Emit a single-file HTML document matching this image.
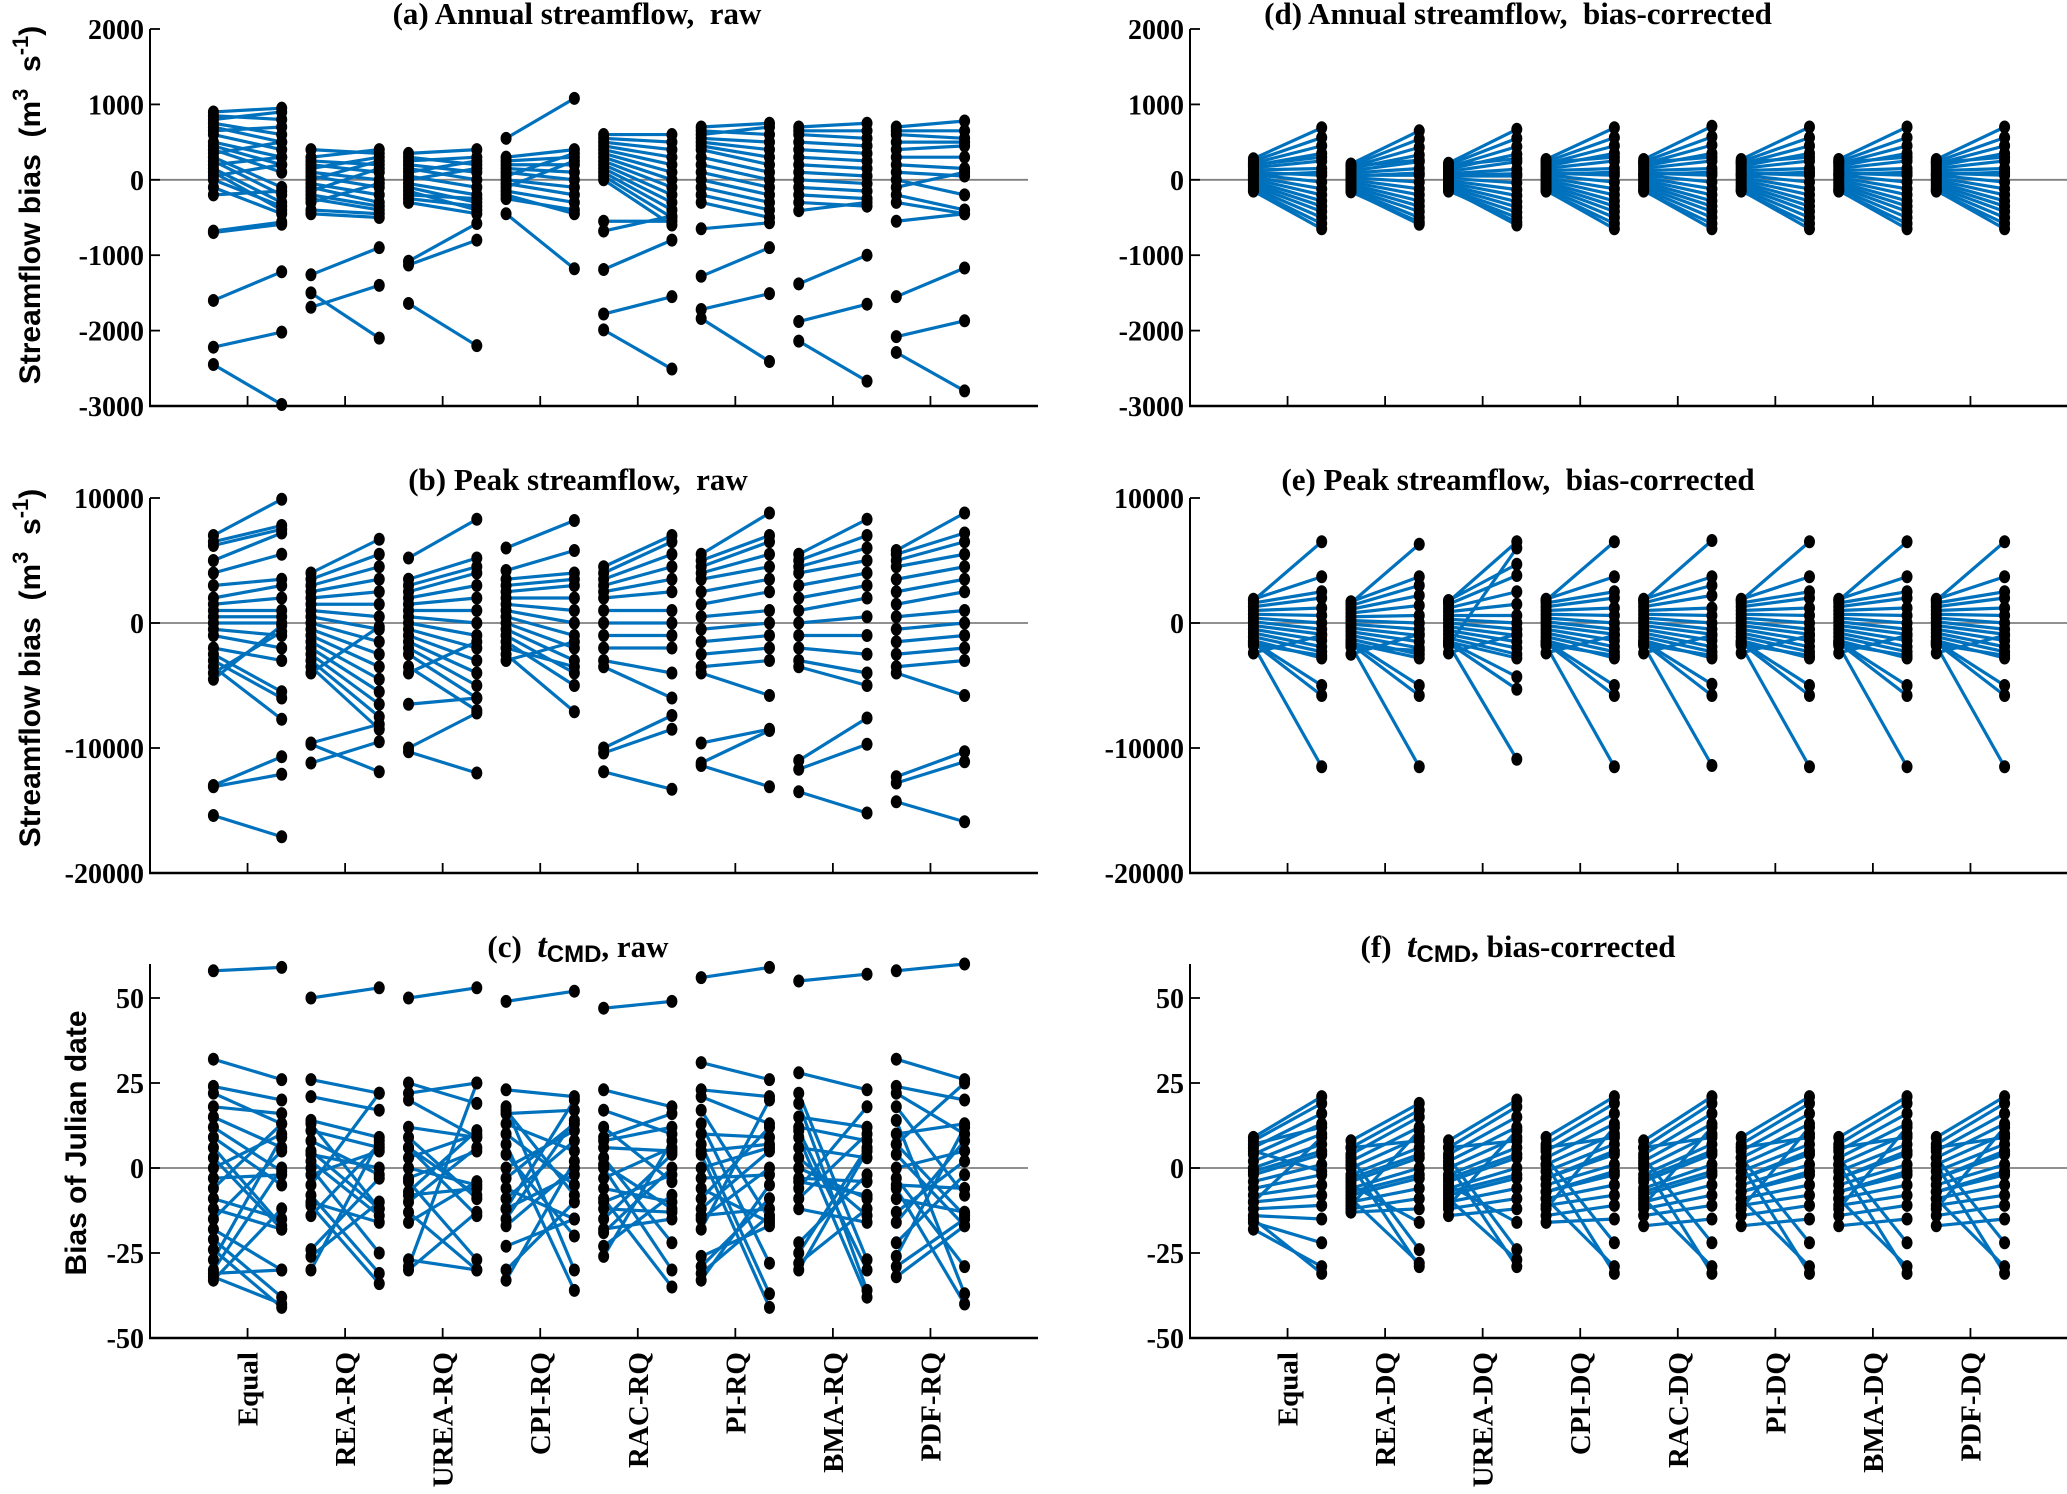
<!DOCTYPE html>
<html><head><meta charset="utf-8">
<style>
html,body{margin:0;padding:0;background:#fff;}
svg{display:block;}
.tk{font-family:"Liberation Serif",serif;font-weight:bold;font-size:28px;fill:#000;}
.xk{font-family:"Liberation Serif",serif;font-weight:bold;font-size:29px;fill:#000;}
.tt{font-family:"Liberation Serif",serif;font-weight:bold;font-size:31px;fill:#000;}
.yl{font-family:"Liberation Sans",sans-serif;font-weight:bold;font-size:30px;fill:#000;}
</style></head>
<body>
<svg id="fig" width="2067" height="1494" viewBox="0 0 2067 1494" xmlns="http://www.w3.org/2000/svg"></svg>
<script>
const catsRaw = ["Equal","REA-RQ","UREA-RQ","CPI-RQ","RAC-RQ","PI-RQ","BMA-RQ","PDF-RQ"];
const catsBC = ["Equal","REA-DQ","UREA-DQ","CPI-DQ","RAC-DQ","PI-DQ","BMA-DQ","PDF-DQ"];
const ticksFlow = [2000,1000,0,-1000,-2000,-3000];
const ticksPeak = [10000,0,-10000,-20000];
const ticksDate = [50,25,0,-25,-50];

// (a) annual raw
const aL = [
 [900,850,800,750,700,650,600,500,450,400,350,300,250,200,150,100,50,0,-100,-200,-700,-680,-1600,-2220,-2450],
 [400,300,250,200,150,100,50,0,-50,-100,-150,-200,-250,-300,-400,-450,-1260,-1500,-1690],
 [350,300,250,200,150,100,50,0,-50,-100,-150,-200,-250,-300,-1080,-1130,-1640],
 [550,300,250,200,150,100,50,0,-50,-100,-150,-200,-250,-450],
 [600,550,500,450,400,350,300,250,200,150,100,50,0,-550,-680,-1190,-1780,-1990],
 [700,650,600,550,500,450,400,300,200,100,0,-100,-200,-300,-650,-1280,-1720,-1840],
 [700,650,600,500,400,300,200,100,0,-100,-200,-300,-410,-1380,-1880,-2140],
 [700,650,600,500,400,300,200,100,0,-100,-200,-300,-550,-1550,-2080,-2290]];
const aR = [
 [950,800,900,600,500,700,400,300,200,100,500,-100,-200,300,-300,-400,200,-350,-450,-150,-590,-560,-1220,-2020,-2980],
 [350,400,200,100,300,0,-100,250,-200,-300,150,-350,-400,-50,-450,-500,-900,-2100,-1400],
 [400,200,300,100,0,250,-100,150,-200,-300,-400,-250,-350,-450,-580,-800,-2200],
 [1080,400,300,200,100,0,350,-100,-200,250,-300,-450,-400,-1180],
 [600,500,400,300,200,100,0,-100,-200,-300,-400,-500,-600,-550,-480,-800,-1550,-2510],
 [750,600,700,500,400,300,200,100,0,-100,-200,-300,-400,-500,-570,-900,-1510,-2410],
 [750,650,550,450,350,250,150,50,-50,-150,-250,-350,-300,-1000,-1650,-2670],
 [780,650,550,500,450,300,150,50,-200,100,-400,-450,-450,-1170,-1870,-2800]];
// (d) annual bias-corrected
const dL = [
 [280,250,220,190,160,130,100,70,40,10,-20,-50,-80,-110,-140,-150,200,60],
 [210,190,170,150,120,90,60,30,0,-30,-60,-90,-120,-140,-160,-150,180,50],
 [220,200,170,140,110,80,50,20,-10,-40,-70,-100,-130,-150,-140,-120,190,60],
 [270,240,210,180,150,120,90,60,30,0,-30,-60,-90,-120,-150,-140,230,70],
 [270,240,210,180,150,120,90,60,30,0,-30,-60,-90,-120,-150,-140,230,70],
 [270,240,210,180,150,120,90,60,30,0,-30,-60,-90,-120,-150,-140,230,70],
 [270,240,210,180,150,120,90,60,30,0,-30,-60,-90,-120,-150,-140,230,70],
 [270,240,210,180,150,120,90,60,30,0,-30,-60,-90,-120,-150,-140,230,70]];
const dR = [
 [690,560,450,350,250,150,60,-30,-120,-200,-280,-350,-420,-500,-580,-650,300,100],
 [650,540,430,330,240,150,60,-30,-120,-200,-280,-350,-420,-500,-560,-590,260,90],
 [670,550,440,340,240,140,50,-40,-130,-210,-290,-360,-430,-500,-560,-600,280,80],
 [690,560,450,350,250,150,60,-30,-120,-200,-280,-350,-420,-500,-580,-650,300,100],
 [710,570,460,350,250,150,60,-30,-120,-200,-280,-350,-420,-500,-580,-650,300,100],
 [700,560,450,350,250,150,60,-30,-120,-200,-280,-350,-420,-500,-580,-650,300,100],
 [700,560,450,350,250,150,60,-30,-120,-200,-280,-350,-420,-500,-580,-650,300,100],
 [700,560,450,350,250,150,60,-30,-120,-200,-280,-350,-420,-500,-580,-650,300,100]];
// (b) peak raw
const bL = [
 [7000,6500,6200,5000,4000,3000,2000,1500,1000,500,0,-500,-1000,-2000,-2500,-3000,-3500,-4000,-4500,-13000,-13100,-15400],
 [4000,3500,3000,2500,2000,1500,1000,500,0,-500,-1000,-1500,-2000,-2500,-3000,-3500,-4000,-9600,-9700,-11200],
 [5200,3500,3000,2500,2000,1500,1000,500,0,-500,-1000,-1500,-2000,-2500,-3500,-4000,-6500,-10000,-10300],
 [6000,4200,3500,3000,2500,2000,1500,1000,500,0,-500,-1000,-1500,-2000,-2500,-3000],
 [4500,4000,3500,3000,2500,2000,1000,0,-1000,-2000,-3000,-3500,-10000,-10400,-11900],
 [5500,5000,4500,4000,3500,2500,1500,500,-500,-1500,-2500,-3500,-4000,-9600,-11200,-11400],
 [5500,5000,4500,4000,3000,2000,1000,0,-1000,-2000,-3000,-3500,-11000,-11700,-13500],
 [5800,5500,5000,4500,3500,2500,1500,500,-500,-1500,-2500,-3500,-4000,-12300,-12800,-14300]];
const bR = [
 [9900,7800,7500,7200,5500,3500,3000,2000,1000,500,0,-1000,-2000,-3000,-5500,-6000,-7700,-700,-200,-10700,-12100,-17100],
 [6700,5500,4500,3500,2500,1500,500,-500,-1500,-2500,-3500,-4500,-5500,-6500,-7500,-8500,-300,-8100,-11900,-9500],
 [8300,5200,4500,4000,3000,2000,1000,0,-1000,-2000,-3000,-4000,-5000,-6000,-7000,-1500,-6000,-7200,-12000],
 [8200,5800,4000,3500,3000,2000,1000,0,-1000,-2000,-3000,-4000,-5000,-3500,-7100,-1500],
 [7000,6500,5500,4500,3500,2500,1000,0,-1000,-2000,-4000,-6000,-7400,-8500,-13300],
 [8800,7000,6500,5500,4500,3500,2500,1000,0,-1000,-2000,-3000,-5800,-8500,-8600,-13100],
 [8300,7000,6000,5000,4000,3000,2000,500,-1000,-2500,-4000,-5000,-7600,-9700,-15200],
 [8800,7200,6500,5500,4500,3500,2500,1000,0,-1000,-2000,-3000,-5800,-10300,-11100,-15900]];
// (e) peak bias-corrected
const eL = [
 [1900,1600,1300,1000,700,400,100,-200,-500,-800,-1100,-1400,-1700,-2400,1800,-1500,-1600,-1800],
 [1700,1400,1100,800,500,200,-100,-400,-700,-1000,-1300,-1600,-1900,-2500,1600,-1500,-1700,-1800],
 [1800,1500,1200,900,600,300,0,-300,-600,-900,-1200,-1500,-1800,-2400,1700,-1500,-1600,-1700],
 [1900,1600,1300,1000,700,400,100,-200,-500,-800,-1100,-1400,-1700,-2400,1800,-1500,-1600,-1800],
 [1900,1600,1300,1000,700,400,100,-200,-500,-800,-1100,-1400,-1700,-2400,1800,-1500,-1600,-1800],
 [1900,1600,1300,1000,700,400,100,-200,-500,-800,-1100,-1400,-1700,-2400,1800,-1500,-1600,-1800],
 [1900,1600,1300,1000,700,400,100,-200,-500,-800,-1100,-1400,-1700,-2400,1800,-1500,-1600,-1800],
 [1900,1600,1300,1000,700,400,100,-200,-500,-800,-1100,-1400,-1700,-2400,1800,-1500,-1600,-1800]];
const eR = [
 [3700,2500,2000,1200,600,0,-500,-900,-1400,-1900,-2300,-2800,-2600,-1000,6500,-5000,-5800,-11500],
 [3700,3000,2200,1400,600,0,-500,-1000,-1500,-2000,-2500,-2800,-2200,-900,6300,-5000,-5800,-11500],
 [4700,3800,2500,1500,600,0,-500,-1000,-1500,-2000,-2500,-2800,6000,-900,6500,-4300,-5300,-10900],
 [3700,2500,2000,1200,600,0,-500,-900,-1400,-1900,-2300,-2800,-2600,-1000,6500,-5000,-5800,-11500],
 [3700,3000,2200,1200,600,0,-500,-900,-1400,-1900,-2300,-2800,-2600,-1000,6600,-4900,-5800,-11400],
 [3700,2500,2000,1200,600,0,-500,-900,-1400,-1900,-2300,-2800,-2600,-1000,6500,-5000,-5800,-11500],
 [3700,2500,2000,1200,600,0,-500,-900,-1400,-1900,-2300,-2800,-2600,-1000,6500,-5000,-5800,-11500],
 [3700,2500,2000,1200,600,0,-500,-900,-1400,-1900,-2300,-2800,-2600,-1000,6500,-5000,-5800,-11500]];
// (c) tCMD raw
const cL = [
 [58,32,24,22,18,15,12,9,6,3,0,-3,-6,-9,-12,-15,-18,-21,-24,-27,-30,-32,-31,-33],
 [50,26,21,14,11,8,5,2,0,-2,-5,-8,-11,-14,-24,-26,-30,-10,4,13],
 [50,25,22,12,9,6,3,0,-4,-7,-10,-13,-16,-27,-30,-29,-3,6,-8,20],
 [49,23,18,16,13,10,7,4,0,-3,-6,-9,-12,-15,-17,-23,-30,-33,17,-12],
 [47,23,17,12,9,6,3,0,-3,-6,-9,-12,-15,-18,-23,-26,8,-10,1,-19],
 [56,31,23,21,17,13,10,7,4,0,-3,-6,-9,-12,-15,-18,-26,-29,-31,-33,5,-14],
 [55,28,22,19,15,12,9,6,3,0,-3,-6,-9,-12,-22,-25,-28,-30,11,-4],
 [58,32,24,22,18,14,10,7,4,0,-3,-6,-9,-13,-16,-22,-26,-29,-32,7,-5]];
const cR = [
 [59,26,20,13,16,6,-1,-5,-17,-18,10,-2,13,-15,-18,5,-30,-38,-41,9,0,-40,-30,-12],
 [53,22,17,9,6,-2,-12,-14,-25,5,22,-31,-34,7,-3,-10,8,-16,0,-12],
 [53,19,25,9,-9,-14,10,-5,-27,11,6,-30,-4,-30,-13,25,5,-8,-6,9],
 [52,21,-30,17,5,-5,-36,-20,11,13,-15,8,-2,14,0,-15,-10,2,-8,20],
 [49,18,10,-4,16,5,-22,-30,6,-10,-35,-13,4,-15,-8,8,12,-2,-12,0],
 [59,26,21,13,-15,-28,9,-37,-41,6,-2,-16,12,5,0,20,-17,-9,-14,-5,7,-12],
 [57,23,-27,-36,12,8,-38,3,-14,-9,-4,18,10,-16,-2,6,-12,5,-30,-8],
 [60,26,20,10,-8,-37,13,-14,-17,5,-29,-40,-13,2,8,-2,12,-15,-17,25,-6]];
// (f) tCMD bias-corrected
const fL = [
 [9,8,6,4,2,0,-2,-4,-6,-8,-10,-12,-14,-16,-18,-15,-10,5,7,-1],
 [8,6,4,2,0,-2,-4,-6,-8,-10,-12,-13,-5,3,-9,1,6,-7,-11,-3],
 [8,6,4,2,0,-2,-4,-6,-8,-10,-12,-14,-5,3,-9,1,6,-7,-11,-3],
 [9,7,5,3,1,-1,-3,-5,-7,-9,-11,-14,-16,3,-9,1,6,-7,-12,-3],
 [8,6,4,2,0,-2,-4,-6,-8,-10,-12,-14,-17,3,-9,1,6,-7,-11,-3],
 [9,7,5,3,1,-1,-3,-5,-7,-9,-11,-14,-17,3,-9,1,6,-7,-12,-3],
 [9,7,5,3,1,-1,-3,-5,-7,-9,-11,-14,-17,3,-9,1,6,-7,-12,-3],
 [9,7,5,3,1,-1,-3,-5,-7,-9,-11,-14,-17,3,-9,1,6,-7,-12,-3]];
const fR = [
 [21,19,16,13,10,7,4,1,-2,-5,-8,-11,-15,-22,-29,-31,9,-1,12,5],
 [19,17,15,12,9,6,3,0,-3,-6,-9,-12,-16,-24,-28,-29,8,-2,11,4],
 [20,18,15,12,9,6,3,0,-3,-6,-9,-12,-16,-24,-27,-29,8,-2,11,4],
 [21,19,16,13,10,7,4,1,-2,-5,-8,-11,-15,-22,-29,-31,9,-1,12,5],
 [21,19,16,13,10,7,4,1,-2,-5,-8,-11,-15,-22,-29,-31,9,-1,12,5],
 [21,19,16,13,10,7,4,1,-2,-5,-8,-11,-15,-22,-29,-31,9,-1,12,5],
 [21,19,16,13,10,7,4,1,-2,-5,-8,-11,-15,-22,-29,-31,9,-1,12,5],
 [21,19,16,13,10,7,4,1,-2,-5,-8,-11,-15,-22,-29,-31,9,-1,12,5]];

const NS = "http://www.w3.org/2000/svg";
const svg = document.getElementById('fig');
function mk(tag, attrs, parent){const e=document.createElementNS(NS,tag);for(const k in attrs)e.setAttribute(k,attrs[k]);(parent||svg).appendChild(e);return e;}

const W = 878;
function panel(id, x0, yTop, yBot, ymin, ymax, ticks, L, R, cats, showCats){
  const g = mk('g',{});
  
  
  const sx = v => x0 + v*W/9;
  const sy = v => yBot - (v-ymin)/(ymax-ymin)*(yBot-yTop);
  const z = mk('line',{x1:x0,x2:x0+W,y1:sy(0),y2:sy(0),stroke:'#808080','stroke-width':1.8},g);
  
  
  const ser = mk('g',{},g);
  
  
  for(let c=0;c<8;c++){
    const xa = sx(c+1-0.35), xb = sx(c+1+0.35);
    for(let i=0;i<L[c].length;i++){
      const ln = mk('line',{x1:xa,y1:sy(L[c][i]),x2:xb,y2:sy(R[c][i]),stroke:'#0072BD','stroke-width':3.2},ser);
      
      
    }
  }
  for(let c=0;c<8;c++){
    const xa = sx(c+1-0.35), xb = sx(c+1+0.35);
    for(let i=0;i<L[c].length;i++){
      const p1 = mk('ellipse',{cx:xa,cy:sy(L[c][i]),rx:5.5,ry:6.5,fill:'#000'},ser);
      
      
      const p2 = mk('ellipse',{cx:xb,cy:sy(R[c][i]),rx:5.5,ry:6.5,fill:'#000'},ser);
      
      
    }
  }
  const ya = mk('line',{x1:x0,x2:x0,y1:yTop,y2:yBot,stroke:'#000','stroke-width':2},g);
  
  
  const xa = mk('line',{x1:x0-1,x2:x0+W+10,y1:yBot,y2:yBot,stroke:'#000','stroke-width':2.5},g);
  
  
  for(let c=0;c<8;c++){
    const t = mk('line',{x1:sx(c+1),x2:sx(c+1),y1:yBot,y2:yBot-10,stroke:'#000','stroke-width':1.8},g);
    
    
    if(showCats){
      const tx = mk('text',{class:'xk','text-anchor':'end',transform:`translate(${sx(c+1)+10},${yBot+14}) rotate(-90)`},g);
      tx.textContent = cats[c];
      
      
    }
  }
  ticks.forEach(v=>{
    const t = mk('line',{x1:x0,x2:x0+10,y1:sy(v),y2:sy(v),stroke:'#000','stroke-width':1.8},g);
    
    
    const tx = mk('text',{class:'tk','text-anchor':'end',x:x0-6,y:sy(v)+10},g);
    tx.textContent = String(v);
    
    
  });
  return g;
}

panel('a',150,29,406,-3000,2000,ticksFlow,aL,aR,catsRaw,false);
panel('b',150,498,873,-20000,10000,ticksPeak,bL,bR,catsRaw,false);
panel('c',150,964,1338,-50,60,ticksDate,cL,cR,catsRaw,true);
panel('d',1190,29,406,-3000,2000,ticksFlow,dL,dR,catsBC,false);
panel('e',1190,498,873,-20000,10000,ticksPeak,eL,eR,catsBC,false);
panel('f',1190,964,1338,-50,60,ticksDate,fL,fR,catsBC,true);

function title(txt, x, y, name){
  const t = mk('text',{class:'tt','text-anchor':'middle',x:x,y:y});
  t.innerHTML = txt;
  
  
}
title('(a) Annual streamflow,&#160; raw', 577, 24, 'title-a');
title('(b) Peak streamflow,&#160; raw', 578, 490, 'title-b');
title('(c)&#160; <tspan font-style="italic" font-size="34">t</tspan><tspan font-family="Liberation Sans" font-size="24" dy="5">CMD</tspan><tspan dy="-5">, raw</tspan>', 578, 957, 'title-c');
title('(d) Annual streamflow,&#160; bias-corrected', 1518, 24, 'title-d');
title('(e) Peak streamflow,&#160; bias-corrected', 1518, 490, 'title-e');
title('(f)&#160; <tspan font-style="italic" font-size="34">t</tspan><tspan font-family="Liberation Sans" font-size="24" dy="5">CMD</tspan><tspan dy="-5">, bias-corrected</tspan>', 1518, 957, 'title-f');

function ylab(txt, cx, cy, name){
  const t = mk('text',{class:'yl','text-anchor':'middle',transform:`translate(${cx},${cy}) rotate(-90)`});
  t.innerHTML = txt;
  
  
}
ylab('Streamflow bias&#160; (m<tspan dy="-12" font-size="22">3</tspan><tspan dy="12">&#160; s</tspan><tspan dy="-12" font-size="22">-1</tspan><tspan dy="12">)</tspan>', 40, 205, 'y-axis-title-a');
ylab('Streamflow bias&#160; (m<tspan dy="-12" font-size="22">3</tspan><tspan dy="12">&#160; s</tspan><tspan dy="-12" font-size="22">-1</tspan><tspan dy="12">)</tspan>', 40, 668, 'y-axis-title-b');
ylab('Bias of Julian date', 86, 1143, 'y-axis-title-c');
</script>
</body></html>
